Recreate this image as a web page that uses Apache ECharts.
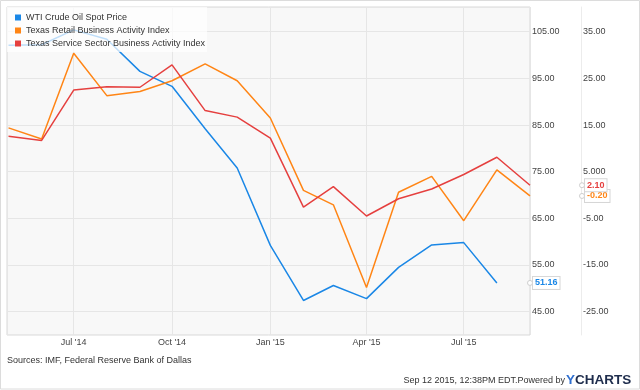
<!DOCTYPE html>
<html><head><meta charset="utf-8">
<script src="https://cdn.jsdelivr.net/npm/echarts@6/dist/echarts.min.js"></script>
<style>html,body{margin:0;padding:0;background:#fff}#c{width:640px;height:390px}</style>
</head><body><div id="c"></div>
<script>
const months = ['2014-05-01','2014-06-01','2014-07-01','2014-08-01','2014-09-01','2014-10-01','2014-11-01','2014-12-01',
  '2015-01-01','2015-02-01','2015-03-01','2015-04-01','2015-05-01','2015-06-01','2015-07-01','2015-08-01','2015-09-01'];
const wti = [102.1, 102.2, 105.4, 103.4, 96.5, 93.3, 84.2, 75.8, 59.2, 47.4, 50.6, 47.8, 54.5, 59.3, 59.8, 51.16];
const retail = [14.4, 12.0, 30.4, 21.3, 22.2, 24.5, 28.1, 24.5, 16.5, 1.0, -2.1, -19.8, 0.6, 4.0, -5.5, 5.4, -0.2];
const service = [12.6, 11.7, 22.5, 23.2, 23.1, 27.9, 18.1, 16.7, 12.2, -2.6, 1.8, -4.5, -0.8, 1.3, 4.4, 8.1, 2.1];
const wtiTicks = ['45.00','55.00','65.00','75.00','85.00','95.00','105.00'];
const indexTicks = ['-25.00','-15.00','-5.00','5.000','15.00','25.00','35.00'];
const monthNames = ['Jan','Feb','Mar','Apr','May','Jun','Jul','Aug','Sep','Oct','Nov','Dec'];
const seriesNames = ['WTI Crude Oil Spot Price','Texas Retail Business Activity Index','Texas Service Sector Business Activity Index'];
const colors = ['#1a87e6','#ff8515','#e5403f'];

const FONT = 'Arial, "Liberation Sans", sans-serif';
function tickLookup(list, start) {
  return function (v) {
    const i = Math.round((v - start) / 10);
    if (Math.abs(v - (start + 10 * i)) < 1e-6 && i >= 0 && i < list.length) return list[i];
    return '';
  };
}
const chart = echarts.init(document.getElementById('c'), null, {renderer: 'canvas'});
const lastMonth = months[months.length - 1];
function endMark(val, color, shift) {
  return {
    symbol: 'circle', symbolSize: 5, symbolOffset: [shift, 0],
    itemStyle: {color: '#fff', borderColor: '#cfcfcf', borderWidth: 1},
    label: {
      show: true, position: 'right', distance: 0,
      formatter: val.toFixed(2), color: color, fontWeight: 'bold', fontSize: 9, fontFamily: FONT,
      backgroundColor: '#fff', borderColor: '#d6d6d6', borderWidth: 1, padding: [2, 2, 1, 2]
    },
    data: [{coord: [lastMonth, val]}],
    silent: true, animation: false
  };
}
const option = {
  animation: false,
  backgroundColor: '#fff',
  grid: {left: 7, top: 7, right: 110, bottom: 55, show: true, backgroundColor: '#f8f8f8', borderColor: '#d9d9d9', borderWidth: 1},
  legend: {
    orient: 'vertical', left: 7, top: 7, padding: [6, 2, 4, 8], itemGap: 4,
    itemWidth: 6, itemHeight: 6, icon: 'rect',
    backgroundColor: 'rgba(255,255,255,0.72)',
    textStyle: {fontSize: 9, color: '#333', fontFamily: FONT},
    data: seriesNames
  },
  xAxis: {
    type: 'time', min: '2014-04-29 14:00', max: lastMonth,
    minInterval: 100 * 86400000, maxInterval: 100 * 86400000,
    axisLine: {show: false}, axisTick: {show: false},
    splitLine: {show: true, lineStyle: {color: '#e6e6e6', width: 1}},
    axisLabel: {
      fontSize: 9, color: '#444', fontFamily: FONT, margin: 3, hideOverlap: false,
      formatter: function (v) { const d = new Date(v); return monthNames[d.getMonth()] + " '" + String(d.getFullYear()).slice(2); }
    }
  },
  yAxis: [
    {type: 'value', position: 'right', min: 40, max: 110.3, interval: 5,
      axisLine: {show: false}, axisTick: {show: false},
      splitLine: {show: true, lineStyle: {color: ['rgba(0,0,0,0)', '#e6e6e6'], width: 1}},
      axisLabel: {fontSize: 9, color: '#444', fontFamily: FONT, margin: 2, formatter: tickLookup(wtiTicks, 45), showMinLabel: true, showMaxLabel: true}},
    {type: 'value', position: 'right', offset: 51, min: -30, max: 40.3, interval: 5,
      axisLine: {show: true, lineStyle: {color: '#ececec', width: 1}}, axisTick: {show: false},
      splitLine: {show: false},
      axisLabel: {fontSize: 9, color: '#444', fontFamily: FONT, margin: 2, formatter: tickLookup(indexTicks, -25)}}
  ],
  series: [
    {name: seriesNames[0], type: 'line', yAxisIndex: 0, symbol: 'none', color: colors[0],
      lineStyle: {width: 1.5, color: colors[0]},
      data: wti.map((v, i) => [months[i], v]),
      markPoint: endMark(wti[wti.length - 1], colors[0], 0)},
    {name: seriesNames[1], type: 'line', yAxisIndex: 1, symbol: 'none', color: colors[1],
      lineStyle: {width: 1.5, color: colors[1]},
      data: retail.map((v, i) => [months[i], v]),
      markPoint: endMark(retail[retail.length - 1], colors[1], 52)},
    {name: seriesNames[2], type: 'line', yAxisIndex: 1, symbol: 'none', color: colors[2],
      lineStyle: {width: 1.5, color: colors[2]},
      data: service.map((v, i) => [months[i], v]),
      markPoint: endMark(service[service.length - 1], colors[2], 52)}
  ],
  graphic: [
    {type: 'rect', shape: {x: 0.5, y: 0.5, width: 639, height: 388.5}, style: {fill: 'none', stroke: '#dcdcdc', lineWidth: 1}, silent: true, z: 0},
    {type: 'text', left: 7, top: 356, style: {text: 'Sources: IMF, Federal Reserve Bank of Dallas', fontSize: 9, fill: '#333', fontFamily: FONT}},
    {type: 'text', right: 75, top: 376, style: {text: 'Sep 12 2015, 12:38PM EDT.Powered by', fontSize: 9, fill: '#333', fontFamily: FONT}},
    {type: 'text', left: 566, top: 373, style: {
      text: '{y|Y}{c|CHARTS}',
      rich: {y: {fontSize: 13.5, fontWeight: 'bold', fill: '#2f6fd0', fontFamily: FONT}, c: {fontSize: 13.5, fontWeight: 'bold', fill: '#1e2c4c', fontFamily: FONT}}
    }}
  ]
};
chart.setOption(option);
</script>
</body></html>
